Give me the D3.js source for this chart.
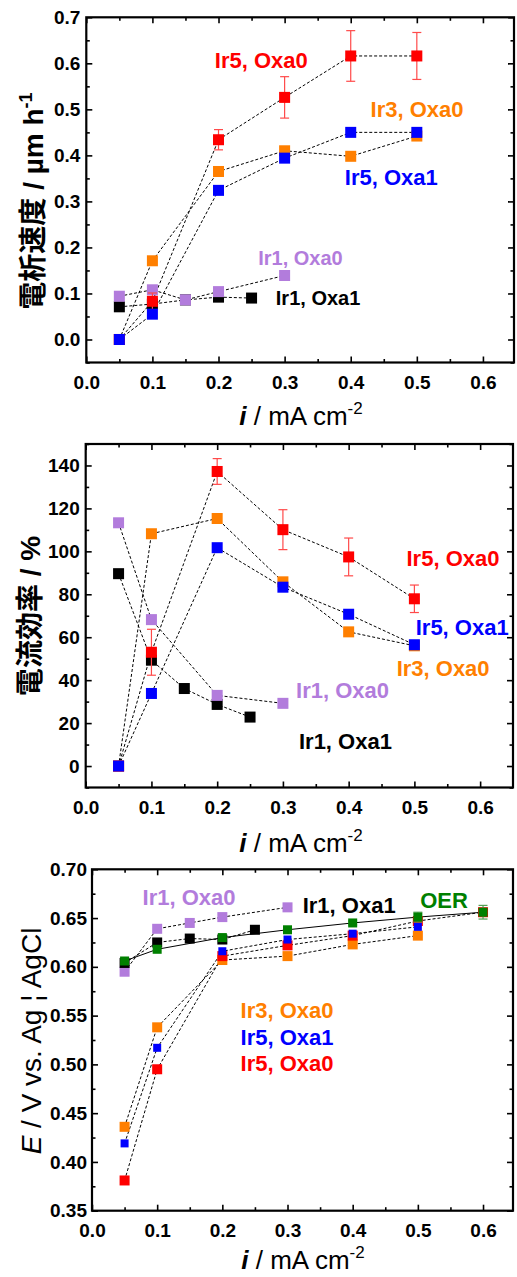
<!DOCTYPE html>
<html>
<head>
<meta charset="utf-8">
<script src="https://cdnjs.cloudflare.com/ajax/libs/d3/7.8.5/d3.min.js"></script>
<style>
body { margin: 0; background: #fff; }
svg text { font-family: "Liberation Sans", Arial, "Noto Sans CJK JP", sans-serif; }
</style>
</head>
<body>
<div id="chart"></div>
<script>
// current density values (mA cm-2)
var xIr5 = [0.05, 0.1, 0.2, 0.3, 0.4, 0.5];
var xIr1Oxa1 = [0.05, 0.1, 0.15, 0.2, 0.25];
var xIr1Oxa0Rate = [0.05, 0.1, 0.15, 0.2, 0.3];
var xIr1Oxa0Eff = [0.05, 0.1, 0.2, 0.3];
var xOER = [0.05, 0.1, 0.2, 0.3, 0.4, 0.5, 0.6];

// deposition rate (um/h)
var rateIr1Oxa1 = [0.071, 0.077, 0.086, 0.092, 0.090];
var rateIr1Oxa0 = [0.094, 0.108, 0.086, 0.104, 0.139];
var rateIr3Oxa0 = [0.0, 0.171, 0.365, 0.410, 0.398, 0.442];
var rateIr5Oxa0 = [0.0, 0.083, 0.434, 0.526, 0.616, 0.616];
var rateIr5Oxa0Err = [0, 0.018, 0.022, 0.045, 0.055, 0.051];
var rateIr5Oxa1 = [0.0, 0.055, 0.324, 0.394, 0.450, 0.450];

// current efficiency (%)
var effIr1Oxa1 = [89.6, 49.3, 36.1, 28.7, 22.8];
var effIr1Oxa0 = [113.3, 68.2, 32.9, 29.2];
var effIr3Oxa0 = [0, 108.2, 115.3, 85.8, 62.5, 56.0];
var effIr5Oxa0 = [0, 53.0, 137.2, 110.1, 97.4, 77.9];
var effIr5Oxa0Err = [0, 10.7, 6.0, 9.3, 8.8, 6.4];
var effIr5Oxa1 = [0, 33.8, 101.7, 83.3, 70.7, 56.5];

// potential (V vs. Ag|AgCl)
var potIr1Oxa0 = [0.595, 0.639, 0.645, 0.651, 0.661];
var potIr1Oxa1 = [0.604, 0.625, 0.629, 0.628, 0.638];
var potIr3Oxa0 = [0.436, 0.538, 0.607, 0.611, 0.623, 0.632];
var potIr5Oxa0 = [0.381, 0.495, 0.611, 0.622, 0.632, 0.647, 0.656];
var potIr5Oxa1 = [0.419, 0.517, 0.616, 0.628, 0.634, 0.641];
var potOER = [0.606, 0.618, 0.630, 0.638, 0.645, 0.651, 0.656];
var potOERErr = [0, 0, 0, 0.002, 0.002, 0.005, 0.007];

// ticks
var xTicks = [0, 0.1, 0.2, 0.3, 0.4, 0.5, 0.6];
var xMinor = [0.05, 0.15, 0.25, 0.35, 0.45, 0.55];
var rateTicks = [0, 0.1, 0.2, 0.3, 0.4, 0.5, 0.6, 0.7];
var rateMinor = [-0.05, 0.05, 0.15, 0.25, 0.35, 0.45, 0.55, 0.65];
var effTicks = [0, 20, 40, 60, 80, 100, 120, 140];
var effMinor = [-10, 10, 30, 50, 70, 90, 110, 130, 150];
var potTicks = [0.35, 0.40, 0.45, 0.50, 0.55, 0.60, 0.65, 0.70];
var potMinor = [0.375, 0.425, 0.475, 0.525, 0.575, 0.625, 0.675];

var RED = "#ff0000", ORANGE = "#ff7f00", BLUE = "#0000ff", PURPLE = "#b27cdc",
    BLACK = "#000000", GREEN = "#008000";

var width = 517, height = 1277;
var svg = d3.select("#chart").append("svg")
  .attr("width", width).attr("height", height);

function zip(xs, ys, es) {
  return xs.map(function(d, i) { return {x: d, y: ys[i], e: es ? es[i] : 0}; });
}

function drawPanel(p) {
  var x = d3.scaleLinear().domain([0, p.xMax]).range([p.left, p.right]);
  var y = d3.scaleLinear().domain(p.yDomain).range([p.bottom, p.top]);
  var g = svg.append("g");

  function styleAxis(sel) {
    sel.select(".domain").remove();
    sel.selectAll(".tick line").attr("stroke", "#000").attr("stroke-width", 1.6);
    sel.selectAll(".tick text").attr("font-size", 19).attr("font-weight", "bold").attr("fill", "#000");
  }

  // bottom
  g.append("g").attr("transform", "translate(0," + p.bottom + ")")
    .call(d3.axisBottom(x).tickValues(xMinor).tickSize(-3.5).tickFormat("")).call(styleAxis);
  g.append("g").attr("transform", "translate(0," + p.bottom + ")")
    .call(d3.axisBottom(x).tickValues(xTicks).tickSize(-6).tickPadding(p.xPad).tickFormat(d3.format(".1f")))
    .call(styleAxis);
  // top
  g.append("g").attr("transform", "translate(0," + p.top + ")")
    .call(d3.axisTop(x).tickValues(xMinor).tickSize(-3.5).tickFormat("")).call(styleAxis);
  g.append("g").attr("transform", "translate(0," + p.top + ")")
    .call(d3.axisTop(x).tickValues(xTicks).tickSize(-6).tickFormat("")).call(styleAxis);
  // left
  g.append("g").attr("transform", "translate(" + p.left + ",0)")
    .call(d3.axisLeft(y).tickValues(p.yMinor).tickSize(-3.5).tickFormat("")).call(styleAxis);
  g.append("g").attr("transform", "translate(" + p.left + ",0)")
    .call(d3.axisLeft(y).tickValues(p.yTicks).tickSize(-6).tickPadding(p.yPad).tickFormat(p.yFormat))
    .call(styleAxis);
  // right
  g.append("g").attr("transform", "translate(" + p.right + ",0)")
    .call(d3.axisRight(y).tickValues(p.yMinor).tickSize(-3.5).tickFormat("")).call(styleAxis);
  g.append("g").attr("transform", "translate(" + p.right + ",0)")
    .call(d3.axisRight(y).tickValues(p.yTicks).tickSize(-6).tickFormat("")).call(styleAxis);

  // frame
  g.append("rect")
    .attr("x", p.left).attr("y", p.top)
    .attr("width", p.right - p.left).attr("height", p.bottom - p.top)
    .attr("fill", "none").attr("stroke", "#000").attr("stroke-width", 2.2);

  var line = d3.line().x(function(d) { return x(d.x); }).y(function(d) { return y(d.y); });

  // connecting lines first
  p.series.forEach(function(s) {
    g.append("path").datum(s.data)
      .attr("d", line)
      .attr("fill", "none")
      .attr("stroke", "#000")
      .attr("stroke-width", 1)
      .attr("stroke-dasharray", s.solid ? null : "3,2");
  });

  // error bars and markers, in drawing order
  p.series.forEach(function(s) {
    var withErr = s.data.filter(function(d) { return d.e > 0; });
    var eb = g.append("g").attr("stroke", s.errColor || s.color).attr("stroke-width", 1.2);
    withErr.forEach(function(d) {
      var cx = x(d.x), y0 = y(d.y - d.e), y1 = y(d.y + d.e);
      eb.append("line").attr("x1", cx).attr("x2", cx).attr("y1", y0).attr("y2", y1);
      eb.append("line").attr("x1", cx - 4.5).attr("x2", cx + 4.5).attr("y1", y0).attr("y2", y0);
      eb.append("line").attr("x1", cx - 4.5).attr("x2", cx + 4.5).attr("y1", y1).attr("y2", y1);
    });
    var sz = s.size || 11;
    g.append("g").selectAll("rect").data(s.data).enter().append("rect")
      .attr("x", function(d) { return x(d.x) - sz / 2; })
      .attr("y", function(d) { return y(d.y) - sz / 2; })
      .attr("width", sz).attr("height", sz)
      .attr("fill", s.color);
  });

  // annotations
  p.labels.forEach(function(l) {
    g.append("text")
      .attr("x", x(l.x)).attr("y", y(l.y))
      .attr("font-size", l.size || 22).attr("font-weight", "bold")
      .attr("fill", l.color)
      .text(l.text);
  });

  // x title
  var xt = g.append("text")
    .attr("x", p.xTitleX).attr("y", p.xTitleY)
    .attr("text-anchor", "middle").attr("font-size", 26).attr("fill", "#000");
  xt.append("tspan").attr("font-weight", "bold").attr("font-style", "italic").text("i");
  xt.append("tspan").text(" /  mA cm");
  xt.append("tspan").attr("font-size", 17).attr("dy", -11).text("-2");

  // y title
  var yt = g.append("text")
    .attr("transform", "translate(" + p.yTitleX + "," + p.yTitleY + ") rotate(-90)")
    .attr("text-anchor", "middle").attr("font-size", 28).attr("fill", "#000");
  p.yTitle(yt);
}

drawPanel({
  left: 86.3, right: 514, top: 17.3, bottom: 362.5,
  xMax: 0.647, yDomain: [-0.05, 0.7],
  yTicks: rateTicks, yMinor: rateMinor, yFormat: d3.format(".1f"),
  xPad: 13, yPad: 6,
  series: [
    {color: BLACK, data: zip(xIr1Oxa1, rateIr1Oxa1)},
    {color: PURPLE, data: zip(xIr1Oxa0Rate, rateIr1Oxa0)},
    {color: ORANGE, data: zip(xIr5, rateIr3Oxa0)},
    {color: RED, errColor: "#ff4a4a", data: zip(xIr5, rateIr5Oxa0, rateIr5Oxa0Err)},
    {color: BLUE, data: zip(xIr5, rateIr5Oxa1)}
  ],
  labels: [
    {text: "Ir5, Oxa0", color: RED, x: 0.1945, y: 0.590},
    {text: "Ir3, Oxa0", color: ORANGE, x: 0.43, y: 0.484},
    {text: "Ir5, Oxa1", color: BLUE, x: 0.391, y: 0.336},
    {text: "Ir1, Oxa0", color: PURPLE, x: 0.26, y: 0.162, size: 20},
    {text: "Ir1, Oxa1", color: BLACK, x: 0.2867, y: 0.075, size: 20}
  ],
  xTitleX: 301, xTitleY: 425,
  yTitleX: 43, yTitleY: 201,
  yTitle: function(t) {
    t.append("tspan").attr("font-weight", "bold").text("電析速度");
    t.append("tspan").attr("font-weight", "bold").text(" / µm h");
    t.append("tspan").attr("font-weight", "bold").attr("font-size", 18).attr("dy", -11).text("-1");
  }
});

drawPanel({
  left: 85.7, right: 513, top: 444, bottom: 787.5,
  xMax: 0.65, yDomain: [-10, 150],
  yTicks: effTicks, yMinor: effMinor, yFormat: d3.format("d"),
  xPad: 13, yPad: 6,
  series: [
    {color: BLACK, data: zip(xIr1Oxa1, effIr1Oxa1)},
    {color: PURPLE, data: zip(xIr1Oxa0Eff, effIr1Oxa0)},
    {color: ORANGE, data: zip(xIr5, effIr3Oxa0)},
    {color: RED, errColor: "#ff4a4a", data: zip(xIr5, effIr5Oxa0, effIr5Oxa0Err)},
    {color: BLUE, data: zip(xIr5, effIr5Oxa1)}
  ],
  labels: [
    {text: "Ir5, Oxa0", color: RED, x: 0.488, y: 93.3},
    {text: "Ir5, Oxa1", color: BLUE, x: 0.502, y: 61.2},
    {text: "Ir3, Oxa0", color: ORANGE, x: 0.473, y: 41.9},
    {text: "Ir1, Oxa0", color: PURPLE, x: 0.32, y: 31.5},
    {text: "Ir1, Oxa1", color: BLACK, x: 0.3244, y: 7.8}
  ],
  xTitleX: 301, xTitleY: 852,
  yTitleX: 40, yTitleY: 616,
  yTitle: function(t) {
    t.append("tspan").attr("font-weight", "bold").text("電流効率");
    t.append("tspan").attr("font-weight", "bold").text(" / %");
  }
});

drawPanel({
  left: 92, right: 513, top: 869.3, bottom: 1210.7,
  xMax: 0.646, yDomain: [0.35, 0.70],
  yTicks: potTicks, yMinor: potMinor, yFormat: d3.format(".2f"),
  xPad: 13, yPad: 5,
  series: [
    {color: PURPLE, size: 10, data: zip(xIr1Oxa0Rate, potIr1Oxa0)},
    {color: BLACK, size: 10, data: zip(xIr1Oxa1, potIr1Oxa1)},
    {color: ORANGE, size: 10, data: zip(xIr5, potIr3Oxa0)},
    {color: RED, size: 10, data: zip(xOER, potIr5Oxa0)},
    {color: BLUE, size: 8, data: zip(xIr5, potIr5Oxa1)},
    {color: GREEN, size: 9, solid: true, errColor: "#55a055", data: zip(xOER, potOER, potOERErr)}
  ],
  labels: [
    {text: "Ir1, Oxa0", color: PURPLE, x: 0.0776, y: 0.6634},
    {text: "Ir1, Oxa1", color: BLACK, x: 0.3233, y: 0.6552},
    {text: "OER", color: GREEN, x: 0.5035, y: 0.6603},
    {text: "Ir3, Oxa0", color: ORANGE, x: 0.228, y: 0.5476},
    {text: "Ir5, Oxa1", color: BLUE, x: 0.228, y: 0.5199},
    {text: "Ir5, Oxa0", color: RED, x: 0.228, y: 0.4932}
  ],
  xTitleX: 303, xTitleY: 1269,
  yTitleX: 41, yTitleY: 1041,
  yTitle: function(t) {
    t.append("tspan").attr("font-style", "italic").text("E");
    t.append("tspan").text(" / V vs. Ag ¦ AgCl");
  }
});
</script>
</body>
</html>
